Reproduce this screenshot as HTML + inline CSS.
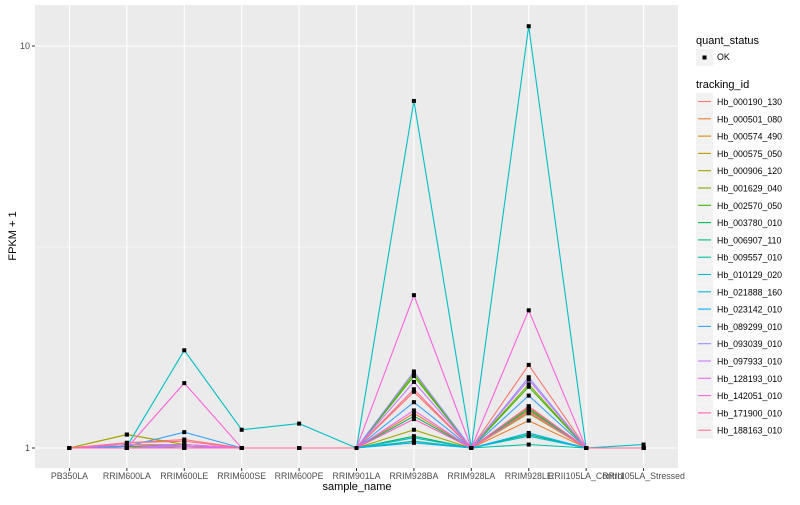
<!DOCTYPE html>
<html><head><meta charset="utf-8"><style>
body{margin:0;background:#fff;font-family:"Liberation Sans",sans-serif}
svg text{font-family:"Liberation Sans",sans-serif}
</style></head><body>
<svg width="800" height="500" xmlns="http://www.w3.org/2000/svg" id="chart">
<rect x="35" y="5" width="643" height="463" fill="#EBEBEB"/>
<g id="grid"></g><g id="lines"></g><g id="pts"></g><g id="axes"></g><g id="legend"></g>
<text x="357" y="490" text-anchor="middle" font-size="11" fill="#000">sample_name</text>
<text transform="translate(16,236) rotate(-90)" text-anchor="middle" font-size="11" fill="#000">FPKM + 1</text>
</svg>
<script>
const categories=["PB350LA","RRIM600LA","RRIM600LE","RRIM600SE","RRIM600PE","RRIM901LA","RRIM928BA","RRIM928LA","RRIM928LE","RRII105LA_Control","RRII105LA_Stressed"];
const seriesNames=["Hb_000190_130","Hb_000501_080","Hb_000574_490","Hb_000575_050","Hb_000906_120","Hb_001629_040","Hb_002570_050","Hb_003780_010","Hb_006907_110","Hb_009557_010","Hb_010129_020","Hb_021888_160","Hb_023142_010","Hb_089299_010","Hb_093039_010","Hb_097933_010","Hb_128193_010","Hb_142051_010","Hb_171900_010","Hb_188163_010"];
const colors=["#F8766D","#EA8331","#D89000","#C09B00","#A3A500","#7CAE00","#39B600","#00BB4E","#00BF7D","#00C1A3","#00BFC4","#00BAE0","#00B0F6","#35A2FF","#9590FF","#C77CFF","#E76BF3","#FA62DB","#FF62BC","#FF6C91"];
const s0=[1,1.03,1.05,1,1,1,1.38,1,1.61,1,1];
const s1=[1,1.01,1.01,1,1,1,1.22,1,1.17,1,1];
const s2=[1,1,1.01,1,1,1,1.20,1,1.24,1,1];
const s3=[1,1.08,1.02,1,1,1,1.04,1,1.26,1,1];
const s4=[1,1.08,1.02,1,1,1,1.11,1,1.22,1,1];
const s5=[1,1.02,1.01,1,1,1,1.53,1,1.44,1,1];
const s6=[1,1.01,1,1,1,1,1.51,1,1.42,1,1];
const s7=[1,1,1,1,1,1,1.07,1,1.08,1,1];
const s8=[1,1,1,1,1,1,1.20,1,1.25,1,1];
const s9=[1,1,1,1,1,1,1.04,1,1.02,1,1];
const s10=[1,1.01,1.75,1.11,1.15,1,7.3,1,11.2,1,1.02];
const s11=[1,1,1,1,1,1,1.06,1,1.07,1,1];
const s12=[1,1,1,1,1,1,1.03,1,1.09,1,1];
const s13=[1,1.01,1.095,1,1,1,1.30,1,1.35,1,1];
const s14=[1,1,1.02,1,1,1,1.55,1,1.50,1,1];
const s15=[1,1,1.01,1,1,1,1.46,1,1.48,1,1];
const s16=[1,1.02,1.02,1,1,1,1.24,1,1.27,1,1];
const s17=[1,1,1.45,1,1,1,2.4,1,2.2,1,1];
const s18=[1,1,1,1,1,1,1.18,1,1.23,1,1];
const s19=[1,1.03,1.04,1,1,1,1.40,1,1.27,1,1];
const series=[s0,s1,s2,s3,s4,s5,s6,s7,s8,s9,s10,s11,s12,s13,s14,s15,s16,s17,s18,s19];
const yTicks=[1,10];
const yTickLabels=["1","10"];
const yMinor=[Math.sqrt(10)];
const NS="http://www.w3.org/2000/svg";
const L=35,R=678,T=5,B=468;
const step=(R-L)/(categories.length-1+1.2);
function x(i){return L+step*(0.6+i);}
function y(v){return 448-402*Math.log10(v);}
function mk(p,t,a){const e=document.createElementNS(NS,t);for(const k in a)e.setAttribute(k,a[k]);p.appendChild(e);return e;}
const grid=document.getElementById('grid');
yMinor.forEach(v=>{const e=mk(grid,'line',{x1:L,x2:R,y1:y(v),y2:y(v),stroke:'#fff','stroke-width':0.6});

});
yTicks.forEach(v=>{const e=mk(grid,'line',{x1:L,x2:R,y1:y(v),y2:y(v),stroke:'#fff','stroke-width':1.1});

});
categories.forEach((c,i)=>{const e=mk(grid,'line',{x1:x(i),x2:x(i),y1:T,y2:B,stroke:'#fff','stroke-width':1.1});

});
const lines=document.getElementById('lines'),pts=document.getElementById('pts');
series.forEach((s,k)=>{const d=s.map((v,i)=>(i?'L':'M')+x(i).toFixed(1)+','+y(v).toFixed(1)).join('');
const p=mk(lines,'path',{d:d,fill:'none',stroke:colors[k],'stroke-width':1.1});


s.forEach((v,i)=>{const r=mk(pts,'rect',{x:x(i)-2,y:y(v)-2,width:4,height:4,fill:'#000'});

});});
const axes=document.getElementById('axes');
yTicks.forEach((v,i)=>{mk(axes,'line',{x1:L-3,x2:L,y1:y(v),y2:y(v),stroke:'#333','stroke-width':1});
const t=mk(axes,'text',{x:L-5,y:y(v)+3,'text-anchor':'end','font-size':9,fill:'#4D4D4D'});t.textContent=yTickLabels[i];

});
categories.forEach((c,i)=>{mk(axes,'line',{x1:x(i),x2:x(i),y1:B,y2:B+3,stroke:'#333','stroke-width':1});
const t=mk(axes,'text',{x:x(i),y:B+11,'text-anchor':'middle','font-size':8.8,fill:'#4D4D4D'});t.textContent=c;

});
const lg=document.getElementById('legend');
let t=mk(lg,'text',{x:696,y:44,'font-size':11,fill:'#000'});t.textContent='quant_status';


mk(lg,'rect',{x:696,y:49,width:17,height:17,fill:'#F2F2F2'});
mk(lg,'rect',{x:702.5,y:55.5,width:4,height:4,fill:'#000'});
t=mk(lg,'text',{x:717,y:60,'font-size':8.8,fill:'#000'});t.textContent='OK';


t=mk(lg,'text',{x:696,y:88,'font-size':11,fill:'#000'});t.textContent='tracking_id';


seriesNames.forEach((n,k)=>{const yy=93+k*17.3;
mk(lg,'rect',{x:696,y:yy,width:17,height:17,fill:'#F2F2F2'});
mk(lg,'line',{x1:698,x2:711,y1:yy+8.5,y2:yy+8.5,stroke:colors[k],'stroke-width':1.1});
const e=mk(lg,'text',{x:717,y:yy+12,'font-size':8.8,fill:'#000'});e.textContent=n;

});
</script>
</body></html>
